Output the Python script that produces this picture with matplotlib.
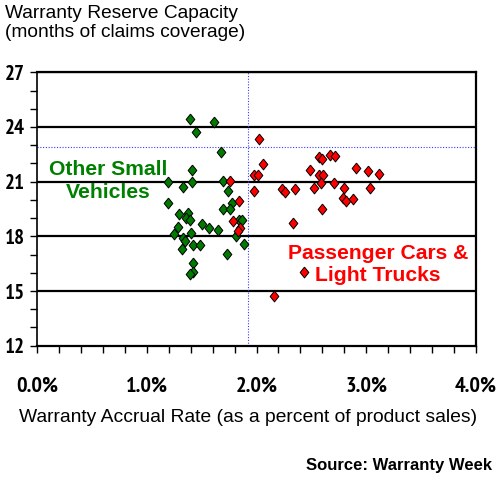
import matplotlib
matplotlib.use("Agg")
import matplotlib.pyplot as plt
from matplotlib.ticker import MultipleLocator, FuncFormatter
from matplotlib import font_manager as fm

# Other Small Vehicles: (accrual rate %, reserve months)
small_x = [1.394, 1.613, 1.449, 1.677, 1.410, 1.191, 1.410, 1.695, 1.328, 1.736,
           1.191, 1.695, 1.777, 1.759, 1.297, 1.379, 1.362, 1.397, 1.506, 1.567,
           1.649, 1.287, 1.248, 1.406, 1.328, 1.346, 1.419, 1.485, 1.318, 1.728,
           1.815, 1.888, 1.841, 1.866, 1.421, 1.419, 1.397]
small_y = [24.44, 24.26, 23.71, 22.63, 21.65, 20.98, 20.98, 21.01, 20.70, 20.46,
           19.85, 19.51, 19.83, 19.50, 19.22, 19.26, 18.99, 18.87, 18.70, 18.45,
           18.37, 18.53, 18.13, 18.18, 17.93, 17.76, 17.50, 17.55, 17.32, 17.02,
           18.03, 17.59, 18.92, 18.89, 16.55, 16.06, 15.93]

# Passenger Cars & Light Trucks
cars_x = [1.763, 1.838, 1.786, 1.852, 1.834, 2.027, 2.056, 1.979, 2.014, 1.977,
          2.230, 2.257, 2.355, 2.335, 2.487, 2.565, 2.600, 2.670, 2.715, 2.569,
          2.606, 2.588, 2.528, 2.706, 2.797, 2.788, 2.815, 2.877, 2.597, 2.904,
          3.016, 3.116, 3.036, 2.436, 2.157]
cars_y = [21.02, 19.94, 18.86, 18.44, 18.29, 23.32, 21.97, 21.36, 21.39, 20.49,
          20.58, 20.42, 20.60, 18.71, 21.64, 22.36, 22.23, 22.45, 22.42, 21.36,
          21.35, 20.94, 20.63, 20.91, 20.64, 20.08, 19.94, 20.07, 19.50, 21.75,
          21.60, 21.42, 20.63, 16.06, 14.72]

avg_x = 1.92
avg_y = 22.9

x_ticks = [0, 1, 2, 3, 4]
y_ticks = [12, 15, 18, 21, 24, 27]

sans = ['Liberation Sans', 'DejaVu Sans']

# pick a narrow bold family for tick labels (like Arial Narrow Bold)
bold_fams = {f.name for f in fm.fontManager.ttflist
             if (isinstance(f.weight, int) and f.weight >= 600) or f.weight in ('bold', 'semibold', 'heavy', 'black')}
narrow_fam = None
for cand in ['Liberation Sans Narrow', 'Arial Narrow', 'Archivo Narrow', 'PT Sans Narrow',
             'Roboto Condensed', 'Pragati Narrow', 'Open Sans Condensed', 'Arimo']:
    if cand in bold_fams:
        narrow_fam = cand
        break
if narrow_fam is not None and narrow_fam != 'Arimo':
    tick_prop = dict(family=[narrow_fam], weight='bold')
    x_fs, y_fs = 16, 15
else:
    tick_prop = dict(family=['Liberation Sans'], weight='bold')
    x_fs, y_fs = 12.5, 12

fig = plt.figure(figsize=(5.0, 4.8), dpi=100)
ax = fig.add_axes([0.074, 0.2798, 0.878, 0.5696])
ax.set_xlim(0, 4)
ax.set_ylim(12, 27)

for yv in y_ticks[1:]:
    ax.axhline(yv, color='black', lw=1.6, zorder=1)

ax.axvline(avg_x, color='#3a3aff', lw=0.8, ls=(0, (1, 1.5)), zorder=1)
ax.axhline(avg_y, color='#3a3aff', lw=0.8, ls=(0, (1, 1.5)), zorder=1)

diamond = [(0, 1), (0.8, 0), (0, -1), (-0.8, 0), (0, 1)]
ax.plot(small_x, small_y, ls='none', marker=diamond, ms=7.8, mfc='#007a00',
        mec='black', mew=0.7, zorder=3)
ax.plot(cars_x, cars_y, ls='none', marker=diamond, ms=7.8, mfc='#ff0000',
        mec='black', mew=0.7, zorder=3)

for s in ['left', 'bottom', 'right', 'top']:
    ax.spines[s].set_color('black')
ax.spines['left'].set_linewidth(1.2)
ax.spines['right'].set_linewidth(1.6)
ax.spines['bottom'].set_linewidth(1.6)
ax.spines['top'].set_linewidth(1.6)

ax.set_xticks(x_ticks)
ax.set_yticks(y_ticks)
ax.xaxis.set_minor_locator(MultipleLocator(0.2))
ax.yaxis.set_minor_locator(MultipleLocator(1))
ax.xaxis.set_major_formatter(FuncFormatter(lambda v, p: f"{v:.1f}%"))
ax.tick_params(axis='x', which='both', direction='out', length=5, width=1, pad=17)
ax.tick_params(axis='y', which='both', direction='out', length=5, width=1, pad=4)
for lab in ax.get_xticklabels():
    lab.update(tick_prop)
    lab.set_fontsize(x_fs)
for lab in ax.get_yticklabels():
    lab.update(tick_prop)
    lab.set_fontsize(y_fs)

fig.text(0.010, 0.962, "Warranty Reserve Capacity", ha='left', va='baseline',
         fontsize=13.8, family=sans)
fig.text(0.010, 0.923, "(months of claims coverage)", ha='left', va='baseline',
         fontsize=13.8, family=sans)

fig.text(0.038, 0.131, "Warranty Accrual Rate (as a percent of product sales)",
         ha='left', va='center', fontsize=13.9, family=sans)
fig.text(0.984, 0.031, "Source: Warranty Week", ha='right', va='center',
         fontsize=12, fontweight='bold', family=sans)

ax.text(0.65, 21.03, "Other Small\nVehicles", ha='center', va='center',
        fontsize=15.2, fontweight='bold', color='#008000', family=sans,
        linespacing=1.3, zorder=2)
ax.text(3.107, 16.45, "Passenger Cars &\nLight Trucks", ha='center', va='center',
        fontsize=15.2, fontweight='bold', color='#ff0000', family=sans,
        linespacing=1.25, zorder=2)

fig.savefig("out.png", dpi=100)
